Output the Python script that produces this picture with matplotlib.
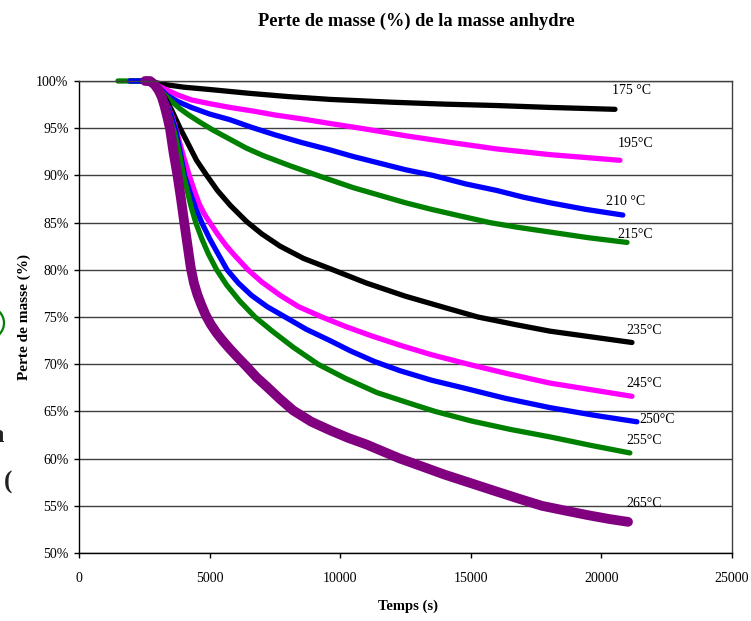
import matplotlib
matplotlib.use("Agg")
import matplotlib.pyplot as plt
from matplotlib.patches import Ellipse
from matplotlib.ticker import FuncFormatter

plt.rcParams["font.family"] = ["Liberation Serif", "DejaVu Serif"]

# ---------------- DATA (time in s, remaining mass in %) ----------------
t_175 = [2600, 2900, 3220, 4000, 5000, 6500, 8000, 9610, 12000, 14000, 16000, 18030, 20520]
m_175 = [100, 99.85, 99.65, 99.35, 99.1, 98.7, 98.35, 98.05, 97.75, 97.55, 97.4, 97.2, 97.0]

t_195 = [2600, 2850, 3100, 3400, 3800, 4300, 5000, 5780, 6700, 7500, 8500, 9610,
         11000, 12500, 14200, 16000, 18030, 20710]
m_195 = [100, 99.8, 99.4, 99.0, 98.5, 98.0, 97.6, 97.2, 96.8, 96.4, 96.0, 95.5,
         94.9, 94.2, 93.5, 92.8, 92.2, 91.6]

t_210 = [1950, 2700, 2900, 3100, 3360, 3800, 4300, 5000, 5780, 6600, 7500, 8500,
         9610, 10500, 11500, 12500, 13550, 14800, 16000, 17000, 18030, 19400, 20820]
m_210 = [100, 100, 99.7, 99.2, 98.5, 97.8, 97.2, 96.5, 95.9, 95.1, 94.3, 93.5,
         92.7, 92.0, 91.3, 90.6, 90.0, 89.1, 88.4, 87.7, 87.1, 86.4, 85.8]

t_215 = [1490, 2700, 2900, 3150, 3480, 3850, 4200, 4650, 5130, 5800, 6400, 7050,
         8100, 9230, 10500, 11500, 12500, 13500, 14600, 15730, 16800, 18030, 19500, 20980]
m_215 = [100, 100, 99.6, 98.9, 98.0, 97.1, 96.4, 95.6, 94.8, 93.8, 92.9, 92.1,
         91.0, 89.9, 88.7, 87.9, 87.1, 86.4, 85.7, 85.0, 84.5, 84.0, 83.4, 82.9]

t_235 = [2500, 2800, 3050, 3300, 3550, 3870, 4150, 4500, 4890, 5300, 5800, 6420,
         7000, 7700, 8600, 9720, 11000, 12500, 14000, 15270, 16700, 18030, 19600, 21170]
m_235 = [100, 99.8, 99.2, 98.2, 96.9, 95.0, 93.5, 91.6, 90.0, 88.4, 86.8, 85.1,
         83.8, 82.5, 81.2, 80.0, 78.6, 77.2, 76.0, 75.0, 74.2, 73.5, 72.9, 72.3]

t_245 = [2500, 2800, 3000, 3200, 3400, 3550, 3700, 3850, 4000, 4220, 4400, 4600,
         4800, 5010, 5300, 5650, 6000, 6470, 7000, 7700, 8400, 9300, 10200, 11200,
         12300, 13500, 14900, 16400, 18030, 19600, 21170]
m_245 = [100, 99.8, 99.3, 98.4, 97.3, 96.3, 95.0, 93.5, 92.0, 90.0, 88.5, 87.0,
         85.9, 85.0, 83.8, 82.5, 81.4, 80.0, 78.7, 77.3, 76.1, 75.0, 74.0, 73.0,
         72.0, 71.0, 70.0, 69.0, 68.0, 67.3, 66.6]

t_250 = [1950, 2700, 2900, 3100, 3300, 3500, 3700, 3870, 4040, 4250, 4470, 4700,
         5000, 5300, 5670, 6100, 6600, 7200, 7890, 8700, 9610, 10400, 11300, 12300,
         13500, 14700, 16300, 18030, 19700, 21360]
m_250 = [100, 100, 99.7, 99.0, 97.9, 96.5, 94.8, 92.5, 90.0, 88.2, 86.5, 85.0,
         83.3, 81.8, 80.0, 78.6, 77.3, 76.1, 75.0, 73.7, 72.5, 71.4, 70.3, 69.3,
         68.3, 67.5, 66.4, 65.4, 64.6, 63.9]

t_255 = [2600, 2850, 3050, 3250, 3450, 3650, 3830, 4000, 4150, 4300, 4470, 4700,
         4950, 5270, 5650, 6150, 6740, 7400, 8200, 9150, 10200, 11400, 12500, 13630,
         15000, 16500, 18030, 19600, 21090]
m_255 = [100, 99.7, 99.0, 97.9, 96.4, 94.6, 92.5, 90.0, 88.3, 86.6, 85.0, 83.3,
         81.7, 80.0, 78.4, 76.7, 75.0, 73.5, 71.8, 70.0, 68.5, 67.0, 66.0, 65.0,
         64.0, 63.1, 62.3, 61.4, 60.6]

t_265 = [2530, 2720, 2900, 3050, 3170, 3280, 3380, 3480, 3620, 3770, 3900, 4030,
         4160, 4280, 4400, 4530, 4680, 4850, 5050, 5270, 5500, 5750, 6050, 6400,
         6800, 7200, 7700, 8200, 8900, 9610, 10300, 11000, 11600, 12290, 13100,
         14000, 15000, 16000, 16900, 17720, 18600, 19500, 20300, 21020]
m_265 = [100, 100, 99.6, 99.0, 98.3, 97.3, 96.2, 95.0, 92.4, 90.0, 87.6, 85.0,
         82.5, 80.2, 78.6, 77.4, 76.3, 75.2, 74.2, 73.3, 72.5, 71.7, 70.8, 69.8,
         68.6, 67.6, 66.3, 65.1, 63.9, 63.0, 62.2, 61.5, 60.8, 60.0, 59.2,
         58.3, 57.4, 56.5, 55.7, 55.0, 54.5, 54.0, 53.6, 53.3]

series = [
    (t_175, m_175, "black"),
    (t_195, m_195, "#FF00FF"),
    (t_210, m_210, "#0000FF"),
    (t_215, m_215, "#008000"),
    (t_235, m_235, "black"),
    (t_245, m_245, "#FF00FF"),
    (t_250, m_250, "#0000FF"),
    (t_255, m_255, "#008000"),
    (t_265, m_265, "#800080"),
]

# curve labels: text, x (s), y (%)
label_txt = ["175 °C", "195°C", "210 °C", "215°C", "235°C", "245°C", "250°C", "255°C", "265°C"]
label_x = [20400, 20630, 20170, 20630, 20940, 20940, 21440, 20940, 20940]
label_y = [99.0, 93.4, 87.2, 83.7, 73.6, 68.0, 64.1, 61.9, 55.2]

x_ticks = [0, 5000, 10000, 15000, 20000, 25000]
y_ticks = [50, 55, 60, 65, 70, 75, 80, 85, 90, 95, 100]

# ---------------- FIGURE ----------------
W, H = 751, 621
fig = plt.figure(figsize=(W / 100, H / 100), dpi=100)
ax = fig.add_axes([79 / W, 1 - 553 / H, (732 - 79) / W, (553 - 81) / H])

ax.set_xlim(0, 25000)
ax.set_ylim(50, 100)
ax.set_xticks(x_ticks)
ax.set_yticks(y_ticks)
ax.yaxis.set_major_formatter(FuncFormatter(lambda v, _: f"{v:.0f}%"))
ax.yaxis.grid(True, color="#404040", lw=1.0)
ax.set_axisbelow(True)

for s in ax.spines.values():
    s.set_color("#404040")
    s.set_linewidth(1.0)
ax.spines["left"].set_color("black")
ax.spines["bottom"].set_color("black")

ax.tick_params(axis="both", direction="out", length=3.5, width=1.0, labelsize=10)
ax.tick_params(axis="y", pad=4)
ax.tick_params(axis="x", pad=10)

for t, m, c in series:
    lw = 7.0 if c == "#800080" else 3.8
    ax.plot(t, m, color=c, lw=lw, solid_capstyle="round", solid_joinstyle="round",
            clip_on=False)

for txt, lx, ly in zip(label_txt, label_x, label_y):
    ax.text(lx, ly, txt, fontsize=10, ha="left", va="center")

fig.text(416 / W, 1 - 21 / H, "Perte de masse (%) de la masse anhydre",
         fontsize=13.2, fontweight="bold", ha="center", va="center")
fig.text(408 / W, 1 - 606 / H, "Temps (s)", fontsize=10.5, fontweight="bold",
         ha="center", va="center")
fig.text(24 / W, 1 - 317 / H, "Perte de masse (%)", fontsize=11, fontweight="bold",
         rotation=90, ha="center", va="center")

# bits of the surrounding page cut off at the left edge
fig.patches.append(Ellipse((-12 / W, 1 - 323 / H), 32 / W, 32 / H, transform=fig.transFigure,
                           fill=False, edgecolor="#008000", lw=1.6))
fig.text(4 / W, 1 - 435 / H, "a", fontsize=18, fontweight="bold", ha="right", va="center",
         color="#222222")
fig.text(12 / W, 1 - 482 / H, "(", fontsize=18, fontweight="bold", ha="right", va="center",
         color="#222222")

fig.savefig("out.png", dpi=100)
